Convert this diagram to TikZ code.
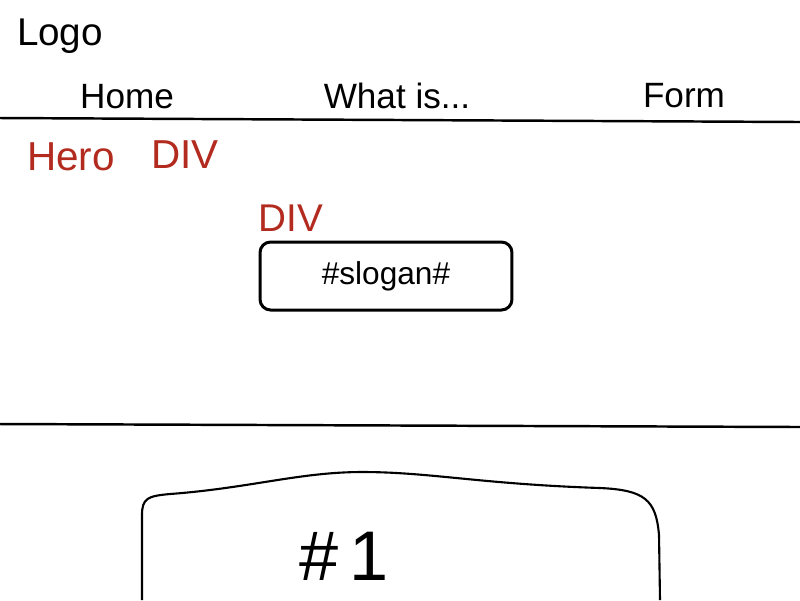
\documentclass[tikz,border=0pt]{standalone}
\usepackage{fontspec}
\setmainfont{Liberation Sans}
\usetikzlibrary{positioning}
\definecolor{sketchred}{HTML}{B32A1E}

\begin{document}
\begin{tikzpicture}[x=0.02cm, y=-0.02cm, every node/.style={inner sep=0pt}]
        \tikzset{
            navtext/.style={anchor=base, font=\fontsize{20}{24}\selectfont},
            redtext/.style={text=sketchred, font=\fontsize{23}{27}\selectfont},
            rule/.style={line width=1.4pt, line cap=round},
            slogan box/.style={draw, line width=1.7pt, rounded corners=6pt,
                minimum width=5.04cm, minimum height=1.36cm,
                font=\fontsize{18}{21}\selectfont}
        }
        \fill[white] (0,0) rectangle (800,600);
        \useasboundingbox (0,0) rectangle (800,600);

        % Header
        \node (logo) [anchor=base, font=\fontsize{22}{26}\selectfont] at (60,45) {Logo};
        \node (home) [navtext] at (127,108) {Home};
        \node (whatis) [navtext] at (397,108) {What is...};
        \node (form) [navtext] at (684,107) {Form};

        % Hero section
        \node (hero) [redtext, anchor=base] at (71,170) {Hero};
        \node (herodiv) [redtext, anchor=base] at (185,168) {DIV};
        \node (slogan) [slogan box] at (386,276) {\#slogan\#};
        \node (divlabel) [redtext, font=\fontsize{22}{26}\selectfont,
            above right=5pt and 0pt of slogan.north west] {DIV};

        % Card below
        \draw [line width=1.2pt] (142,600) -- (142,515)
            .. controls (142,498) and (148,496) .. (170,494)
            .. controls (250,488) and (300,472) .. (362,472)
            .. controls (430,472) and (480,484) .. (600,488)
            .. controls (645,490) and (656,500) .. (659,535) -- (660,600);
        \node (card) [anchor=base, font=\fontsize{40}{44}\selectfont] at (344,580) {\#\,1};

        % Rules
        \draw [rule] (0,118) -- (800,122);
        \draw [rule] (0,424) -- (800,427);
    \end{tikzpicture}
\end{document}
